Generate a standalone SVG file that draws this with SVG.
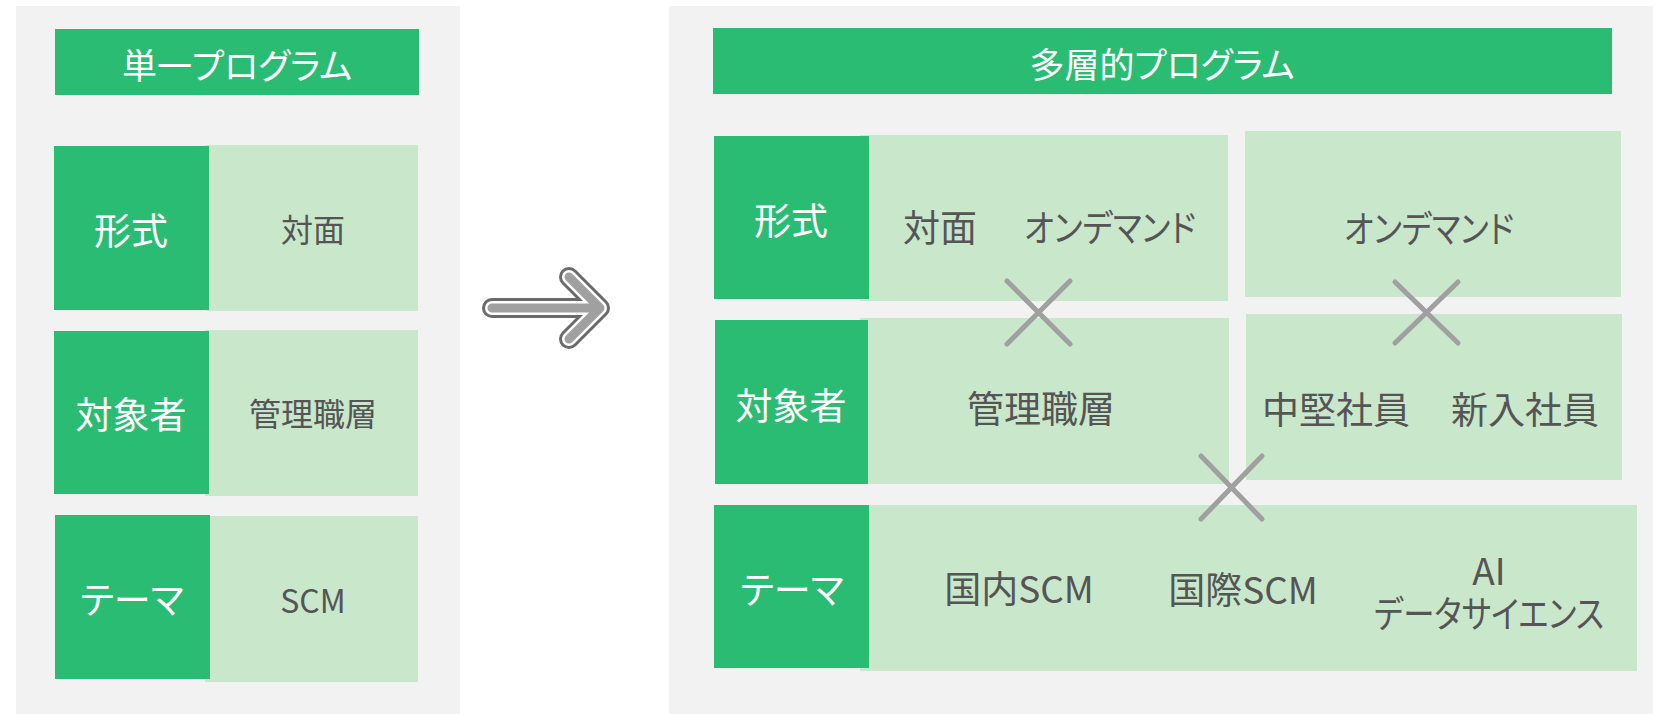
<svg xmlns="http://www.w3.org/2000/svg" width="1660" height="714" viewBox="0 0 1660 714">
<style>
.panel{fill:#f2f2f2}
.dark{fill:#2bbc74}
.light{fill:#c9e7cb}
text{font-family:"Noto Sans CJK JP","Noto Sans",sans-serif;font-feature-settings:"palt" 1;text-anchor:middle;dominant-baseline:central}
.w{fill:#ffffff}
.g{fill:#555555}
.t{font-size:35px}
.lab{font-size:37px}
.sm{font-size:32px}
.md{font-size:37px}
.x{stroke:#a0a0a0;stroke-width:5;stroke-linecap:round;fill:none}
</style>
<rect width="1660" height="714" fill="#ffffff"/>
<g id="left-panel">
<rect class="panel" x="16" y="6" width="444" height="708"/>
</g>
<g id="right-panel">
<rect class="panel" x="669" y="6" width="984" height="708"/>
</g>
<g id="left-title"><rect class="dark" x="55" y="29" width="364" height="66"/><text class="w t" x="237" y="63">単一プログラム</text></g>
<g id="left-row1">
<rect class="light" x="205" y="145" width="213" height="166"/>
<rect class="dark" x="54" y="146" width="155" height="164"/>
<text class="w lab" x="131" y="229">形式</text>
<text class="g sm" x="313" y="228">対面</text>
</g>
<g id="left-row2">
<rect class="light" x="205" y="330" width="213" height="166"/>
<rect class="dark" x="54" y="331" width="155" height="163"/>
<text class="w lab" x="131" y="413">対象者</text>
<text class="g sm" x="313" y="412">管理職層</text>
</g>
<g id="left-row3">
<rect class="light" x="205" y="516" width="213" height="166"/>
<rect class="dark" x="55" y="515" width="155" height="164"/>
<text class="w lab" x="132" y="598">テーマ</text>
<text class="g sm" x="313" y="599">SCM</text>
</g>
<g id="arrow" fill="none" stroke-linecap="round" stroke-linejoin="round">
<path d="M492 308 H600 M569 277 L600 308 L569 339" stroke="#6b6b6b" stroke-width="20"/>
<path d="M492 308 H600 M569 277 L600 308 L569 339" stroke="#ffffff" stroke-width="14"/>
<path d="M492 308 H600 M569 277 L600 308 L569 339" stroke="#a0a0a0" stroke-width="9"/>
</g>
<g id="right-title"><rect class="dark" x="713" y="28" width="899" height="66"/><text class="w t" x="1162" y="62">多層的プログラム</text></g>
<g id="right-row1">
<rect class="light" x="860" y="135" width="368" height="166"/>
<rect class="dark" x="714" y="136" width="155" height="163"/>
<text class="w lab" x="791" y="219">形式</text>
<text class="g md" x="940" y="226">対面</text>
<text class="g md" x="1110" y="226" textLength="172" lengthAdjust="spacingAndGlyphs">オンデマンド</text>
</g>
<g id="right-row1b">
<rect class="light" x="1245" y="131" width="376" height="166"/>
<text class="g md" x="1429" y="227" textLength="170" lengthAdjust="spacingAndGlyphs">オンデマンド</text>
</g>
<g id="right-row2">
<rect class="light" x="860" y="318" width="369" height="166"/>
<rect class="dark" x="715" y="320" width="153" height="164"/>
<text class="w lab" x="791" y="404">対象者</text>
<text class="g md" x="1041" y="407">管理職層</text>
</g>
<g id="right-row2b">
<rect class="light" x="1246" y="314" width="376" height="166"/>
<text class="g md" x="1336" y="408">中堅社員</text>
<text class="g md" x="1525" y="408">新入社員</text>
</g>
<g id="right-row3">
<rect class="light" x="860" y="505" width="777" height="166"/>
<rect class="dark" x="714" y="505" width="155" height="163"/>
<text class="w lab" x="792" y="588">テーマ</text>
<text class="g md" x="1019" y="587">国内SCM</text>
<text class="g md" x="1243" y="588">国際SCM</text>
<text class="g md"><tspan x="1489" y="569">AI</tspan><tspan x="1489" y="612" textLength="230" lengthAdjust="spacingAndGlyphs">データサイエンス</tspan></text>
</g>
<g id="connectors">
<path class="x" d="M1007 281 L1070 344 M1070 281 L1007 344"/>
<path class="x" d="M1395 282 L1458 343 M1458 282 L1395 343"/>
<path class="x" d="M1201 456 L1262 519 M1262 456 L1201 519"/>
</g>
</svg>
